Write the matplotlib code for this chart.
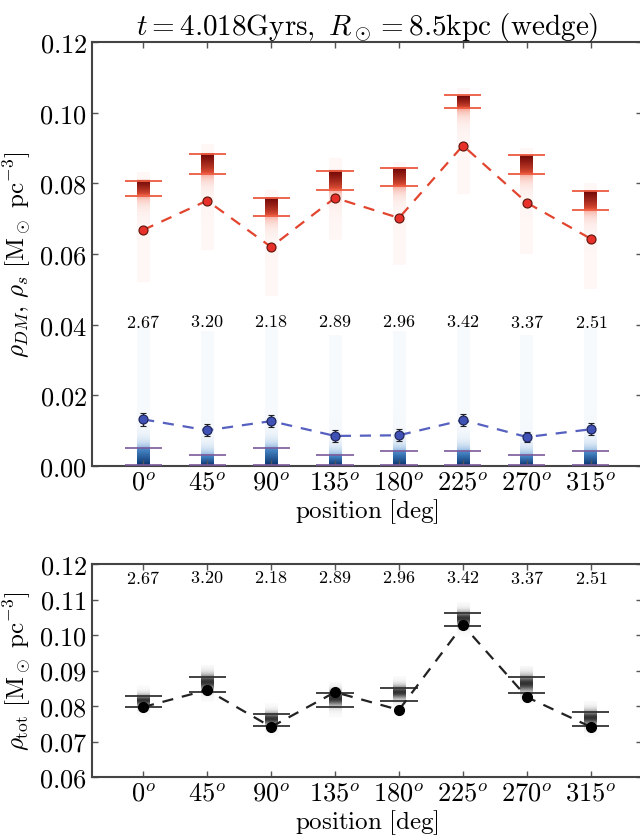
import numpy as np
import matplotlib.pyplot as plt
from matplotlib.colors import to_rgb

plt.rcParams['mathtext.fontset'] = 'cm'
plt.rcParams['font.family'] = 'serif'
plt.rcParams['font.serif'] = ['cmr10', 'DejaVu Serif']
plt.rcParams['axes.formatter.use_mathtext'] = True

# data
positions = ['0', '45', '90', '135', '180', '225', '270', '315']
ratios = ['2.67', '3.20', '2.18', '2.89', '2.96', '3.42', '3.37', '2.51']

# dark matter (red)
dm = [0.0668, 0.0751, 0.0620, 0.0759, 0.0702, 0.0907, 0.0745, 0.0643]
dm_err = [0.0007, 0.0007, 0.0007, 0.0007, 0.0007, 0.0008, 0.0007, 0.0007]
dm_hi = [0.0808, 0.0884, 0.0759, 0.0836, 0.0844, 0.1049, 0.0881, 0.0779]
dm_lo = [0.0765, 0.0827, 0.0708, 0.0782, 0.0793, 0.1012, 0.0827, 0.0725]
dm_tail_lo = [0.052, 0.061, 0.048, 0.064, 0.057, 0.077, 0.060, 0.050]
dm_tail_hi = [0.083, 0.091, 0.078, 0.087, 0.086, 0.107, 0.090, 0.080]

# stars (blue)
st = [0.0132, 0.0101, 0.0127, 0.0085, 0.0087, 0.0130, 0.0082, 0.0104]
st_err = [0.0018, 0.0017, 0.0018, 0.0016, 0.0017, 0.0018, 0.0015, 0.0017]
st_hi = [0.0051, 0.0031, 0.0051, 0.0031, 0.0042, 0.0042, 0.0031, 0.0042]
st_lo = [0.0004, 0.0004, 0.0004, 0.0004, 0.0004, 0.0004, 0.0004, 0.0004]
st_tail_hi = [0.040, 0.038, 0.040, 0.037, 0.038, 0.040, 0.037, 0.039]

# total (black)
tot = [0.0797, 0.0845, 0.0741, 0.0839, 0.0789, 0.1028, 0.0825, 0.0741]
tot_hi = [0.0828, 0.0882, 0.0778, 0.0838, 0.0851, 0.1062, 0.0882, 0.0783]
tot_lo = [0.0797, 0.0840, 0.0744, 0.0797, 0.0815, 0.1025, 0.0837, 0.0744]

x = np.arange(len(positions))
HW = 0.1      # half width of shaded columns
CW = 0.29     # half width of cap lines


def column(ax, xc, y, col, alpha):
    img = np.zeros((len(y), 1, 4))
    img[:, 0, :3] = col
    img[:, 0, 3] = np.clip(alpha, 0, 1)
    ax.imshow(img, extent=(xc - HW, xc + HW, y[0], y[-1]), origin='lower',
              aspect='auto', interpolation='bilinear', zorder=1)


def red_column(ax, xc, lo, hi, tlo, thi):
    dark = np.array(to_rgb('#6e0606'))
    light = np.array(to_rgb('#f05a3c'))
    y = np.linspace(tlo, thi, 400)
    t = np.clip((y - lo) / (hi - lo), 0, 1)[:, None]
    col = light + (dark - light) * t ** 0.7
    alpha = np.where(y < lo, 0.05 + 0.5 * np.exp(-(lo - y) / 0.002), 1.0)
    alpha = np.where(y > hi, 0.045, alpha)
    col[y < lo] = light
    col[y > hi] = light
    column(ax, xc, y, col, alpha)


def blue_column(ax, xc, lo, hi, thi):
    dark = np.array(to_rgb('#06306a'))
    light = np.array(to_rgb('#4f8fd0'))
    y = np.linspace(0, thi, 400)
    t = np.clip(y / hi, 0, 1)[:, None]
    col = dark + (light - dark) * t
    alpha = np.where(y > hi, 0.045 + 0.6 * np.exp(-(y - hi) / 0.0018), 1.0)
    col[y > hi] = light
    column(ax, xc, y, col, alpha)


def gray_column(ax, xc, lo, hi):
    y = np.linspace(lo - 0.003, hi + 0.003, 300)
    mid = 0.5 * (lo + hi) + 0.1 * (hi - lo)
    alpha = 0.85 * np.exp(-((y - mid) / (0.45 * (hi - lo))) ** 2) + \
        0.12 * np.exp(-((y - mid) / (0.9 * (hi - lo))) ** 2)
    col = np.tile(np.array(to_rgb('#2a2a2a')), (len(y), 1))
    column(ax, xc, y, col, alpha)


def style(ax, yt):
    ax.set_xlim(-0.8, 7.8)
    ax.set_xticks(x)
    ax.set_xticklabels(['$%s^o$' % p for p in positions], fontsize=19)
    ax.set_yticks(yt)
    ax.set_yticklabels(['$%.2f$' % v for v in yt], fontsize=19)
    ax.tick_params(direction='in', top=True, right=True, length=4,
                   width=1, color='#555555')
    for s in ax.spines.values():
        s.set_color('#444444')
        s.set_linewidth(1.5)
    ax.set_xlabel(r'$\mathrm{position\ [deg]}$', fontsize=18, labelpad=1)


fig = plt.figure(figsize=(6.4, 8.37), dpi=100)
ax1 = fig.add_axes([92 / 640, 1 - 467 / 837, 550 / 640, 424 / 837])
ax2 = fig.add_axes([92 / 640, 1 - 778 / 837, 550 / 640, 213 / 837])

# top panel
for i in x:
    red_column(ax1, i, dm_lo[i], dm_hi[i], dm_tail_lo[i], dm_tail_hi[i])
    blue_column(ax1, i, st_lo[i], st_hi[i], st_tail_hi[i])
ax1.hlines(dm_hi, x - CW, x + CW, color='#ec5a40', lw=1.3, zorder=3)
ax1.hlines(dm_lo, x - CW, x + CW, color='#ec5a40', lw=1.3, zorder=3)
ax1.hlines(st_hi, x - CW, x + CW, color='#7a5a9a', lw=1.2, zorder=3)
ax1.hlines(st_lo, x - CW, x + CW, color='#7a5a9a', lw=1.2, zorder=3)
ax1.plot(x, dm, ls='--', dashes=(5, 4), color='#e2452f', lw=1.6, zorder=4)
ax1.errorbar(x, dm, yerr=dm_err, fmt='o', ms=6.5, mfc='#e8302a',
             mec='#5a1408', mew=0.8, ecolor='#222222', elinewidth=1,
             capsize=2.5, zorder=5)
ax1.plot(x, st, ls='--', dashes=(5, 4), color='#5560c0', lw=1.6, zorder=4)
ax1.errorbar(x, st, yerr=st_err, fmt='o', ms=6.5, mfc='#3f51b5',
             mec='#1a2050', mew=0.8, ecolor='#222222', elinewidth=1,
             capsize=2.5, zorder=5)
for i in x:
    ax1.text(i, 0.041, '$%s$' % ratios[i], ha='center', va='center',
             fontsize=13)
ax1.set_ylim(0, 0.12)
style(ax1, [0.00, 0.02, 0.04, 0.06, 0.08, 0.10, 0.12])
ax1.set_ylabel(r'$\rho_{DM},\, \rho_s\ [\mathrm{M}_\odot\ \mathrm{pc}^{-3}]$',
               fontsize=18, labelpad=4)
ax1.set_title(r'$t = 4.018\mathrm{Gyrs},\ R_\odot = 8.5\mathrm{kpc\ (wedge)}$',
              fontsize=21, pad=6)

# bottom panel
for i in x:
    gray_column(ax2, i, tot_lo[i], tot_hi[i])
ax2.hlines(tot_hi, x - CW, x + CW, color='#333333', lw=1.3, zorder=3)
ax2.hlines(tot_lo, x - CW, x + CW, color='#333333', lw=1.3, zorder=3)
ax2.plot(x, tot, ls='--', dashes=(5, 4), color='#222222', lw=1.6, zorder=4)
ax2.plot(x, tot, 'o', ms=7, color='black', zorder=5)
for i in x:
    ax2.text(i, 0.1163, '$%s$' % ratios[i], ha='center', va='center',
             fontsize=13)
ax2.set_ylim(0.06, 0.12)
style(ax2, [0.06, 0.07, 0.08, 0.09, 0.10, 0.11, 0.12])
ax2.set_ylabel(r'$\rho_{\rm tot}\ [\mathrm{M}_\odot\ \mathrm{pc}^{-3}]$',
               fontsize=18, labelpad=4)

fig.savefig('out.png', dpi=100)
